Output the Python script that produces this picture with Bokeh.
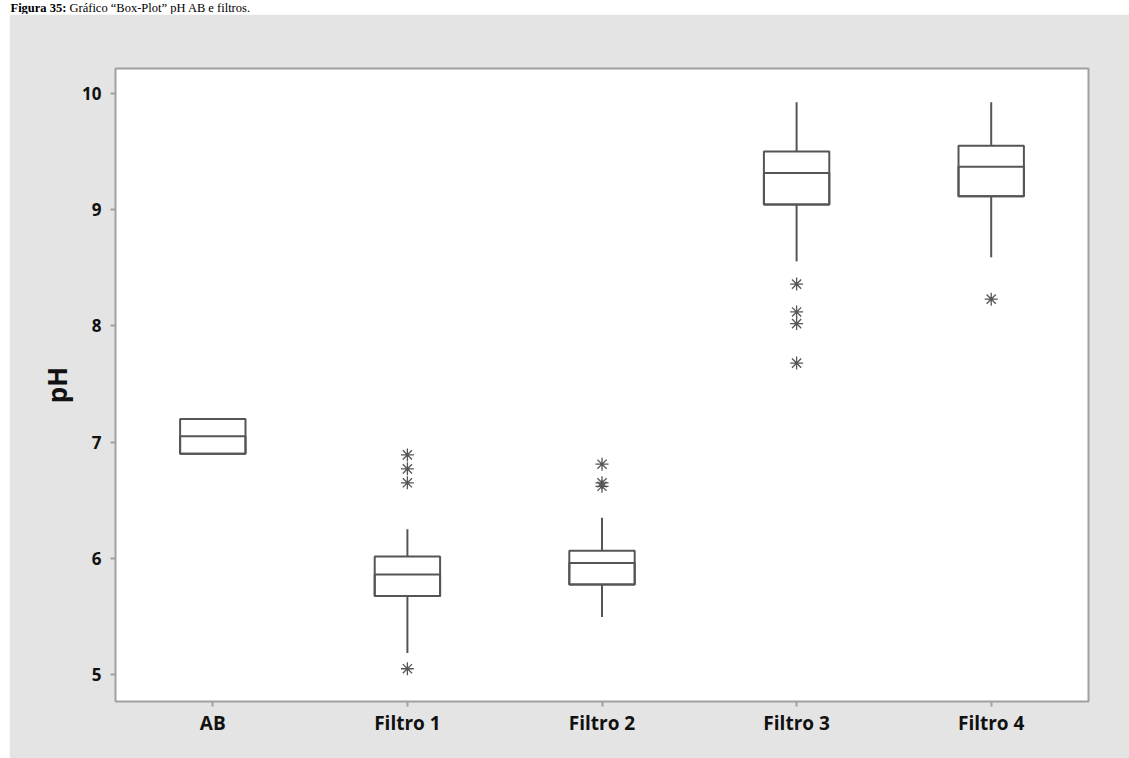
from bokeh.plotting import figure
from bokeh.models import FactorRange, Range1d, FixedTicker, Label, ColumnDataSource, Spacer
from bokeh.layouts import column, row
from bokeh.embed import file_html
from bokeh.resources import INLINE

# ---- data ----
categories = ["AB", "Filtro 1", "Filtro 2", "Filtro 3", "Filtro 4"]
q1 = [6.90, 5.675, 5.775, 9.045, 9.115]
median = [7.05, 5.86, 5.96, 9.315, 9.37]
q3 = [7.20, 6.015, 6.065, 9.50, 9.55]
whisker_low = [6.90, 5.185, 5.495, 8.555, 8.59]
whisker_high = [7.20, 6.25, 6.35, 9.925, 9.925]
outlier_cat = ["Filtro 1", "Filtro 1", "Filtro 1", "Filtro 1",
               "Filtro 2", "Filtro 2", "Filtro 2",
               "Filtro 3", "Filtro 3", "Filtro 3", "Filtro 3",
               "Filtro 4"]
outlier_val = [5.05, 6.65, 6.77, 6.89,
               6.62, 6.65, 6.81,
               7.68, 8.02, 8.12, 8.36,
               8.23]
y_ticks = [5, 6, 7, 8, 9, 10]
caption_bold = "Figura 35:"
caption_text = "Gráfico \u201cBox-Plot\u201d pH AB e filtros."

PANEL = "#e4e4e4"
FRAME = "#a0a0a0"
INK = "#555555"
FONT = "Open Sans"

# ---- white strip at the top holding the caption ----
strip = figure(width=1129, height=14, output_backend="svg", toolbar_location=None,
               x_range=Range1d(0, 1129), y_range=Range1d(14, 0), min_border=0)
strip.axis.visible = False
strip.grid.visible = False
strip.outline_line_color = None
strip.background_fill_color = "white"
strip.border_fill_color = "white"
strip.add_layout(Label(x=10, y=0.1, text=caption_bold, text_font="Liberation Serif",
                       text_font_style="bold", text_font_size="12.5px",
                       text_baseline="top", text_color="black"))
strip.add_layout(Label(x=69, y=0.1, text=caption_text, text_font="Liberation Serif",
                       text_font_size="12.5px", text_baseline="top",
                       text_color="black"))

# ---- main box plot ----
p = figure(width=1120, height=744, output_backend="svg", toolbar_location=None,
           x_range=FactorRange(factors=categories), y_range=Range1d(4.768, 10.215),
           min_border_left=106, min_border_right=41, min_border_top=54,
           min_border_bottom=57)
p.background_fill_color = "white"
p.border_fill_color = PANEL
p.outline_line_color = FRAME
p.outline_line_width = 2
p.grid.visible = False

src = ColumnDataSource(dict(cat=categories, q1=q1, med=median, q3=q3,
                            lo=whisker_low, hi=whisker_high))
p.segment(x0="cat", y0="q3", x1="cat", y1="hi", source=src, line_color=INK, line_width=2)
p.segment(x0="cat", y0="q1", x1="cat", y1="lo", source=src, line_color=INK, line_width=2)
p.vbar(x="cat", width=0.336, top="q3", bottom="q1", source=src,
       fill_color="white", line_color=INK, line_width=2)
p.vbar(x="cat", width=0.336, top="med", bottom="q1", source=src,
       fill_color=None, line_color=INK, line_width=2)
p.scatter(x=outlier_cat, y=outlier_val, marker="asterisk", size=13,
          line_color=INK, line_width=1.3)

for ax in (p.xaxis[0], p.yaxis[0]):
    ax.axis_line_color = None
    ax.major_tick_line_color = FRAME
    ax.major_tick_line_width = 2
    ax.major_tick_out = 5
    ax.major_tick_in = 0
    ax.minor_tick_line_color = None
    ax.major_label_text_font = FONT
    ax.major_label_text_font_style = "bold"
    ax.major_label_text_color = "#111111"

p.xaxis.major_label_text_font_size = "19px"
p.xaxis.major_label_standoff = 3
p.yaxis.major_label_text_font_size = "17px"
p.yaxis.major_label_standoff = 9

p.yaxis.ticker = FixedTicker(ticks=y_ticks)
p.yaxis.axis_label = "pH"
p.yaxis.axis_label_text_font = FONT
p.yaxis.axis_label_text_font_style = "bold"
p.yaxis.axis_label_text_font_size = "26px"
p.yaxis.axis_label_text_color = "#111111"
p.yaxis.axis_label_standoff = 4

layout = column(strip, row(Spacer(width=9, height=744), p, spacing=0), spacing=0)
open("out.html", "w").write(file_html(layout, INLINE))
